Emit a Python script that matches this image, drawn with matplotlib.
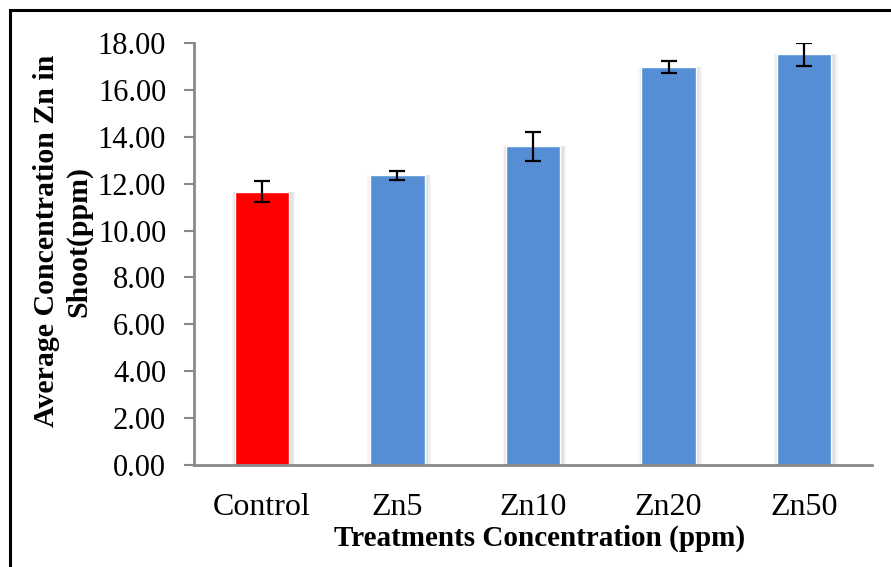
import numpy as np
import matplotlib.pyplot as plt
from matplotlib.lines import Line2D

# data
treatments = ["Control", "Zn5", "Zn10", "Zn20", "Zn50"]
zn_shoot = [11.65, 12.35, 13.60, 16.97, 17.52]    # ppm
zn_err = [0.45, 0.20, 0.62, 0.24, 0.50]           # ppm
bar_colors = ["#FF0000", "#558ED5", "#558ED5", "#558ED5", "#558ED5"]

plt.rcParams['font.family'] = ['Liberation Serif', 'DejaVu Serif']

fig = plt.figure(figsize=(8.91, 5.67), dpi=100)
ax = fig.add_axes([0.2177, 0.18, 0.761, 0.7442])

x = np.arange(len(treatments))
w = 0.40

# soft shadow round the bars
for k, a in [(0.07, 0.06), (0.05, 0.08), (0.03, 0.10)]:
    ax.bar(x + 0.012, zn_shoot, width=w + k, color="gray", alpha=a, linewidth=0, zorder=1)

ax.bar(x, zn_shoot, width=w, color=bar_colors, edgecolor="white", linewidth=1.0, zorder=2)
ax.errorbar(x, zn_shoot, yerr=zn_err, fmt="none", ecolor="black",
            elinewidth=1.6, capsize=6, capthick=1.6, zorder=3)

ax.set_xlim(-0.5, 4.5)
ax.set_ylim(0, 18)
ax.set_yticks(np.arange(0, 18.01, 2))
ax.set_yticklabels(["%.2f" % v for v in np.arange(0, 18.01, 2)])
ax.set_xticks(x)
ax.set_xticklabels(treatments)

ax.tick_params(axis="y", labelsize=22, length=7, width=1.5, color="#898989", pad=13)
ax.tick_params(axis="x", labelsize=23, length=0, pad=20)

for s in ["top", "right"]:
    ax.spines[s].set_visible(False)
for s in ["left", "bottom"]:
    ax.spines[s].set_color("#898989")
    ax.spines[s].set_linewidth(2)

ax.set_xlabel("Treatments Concentration (ppm)", fontsize=21, fontweight="bold", labelpad=2)
ax.set_ylabel("Average Concentration Zn in\nShoot(ppm)", fontsize=21.5, fontweight="bold",
              labelpad=4, linespacing=1.25)
ax.xaxis.label.set_x(0.51)
ax.yaxis.label.set_y(0.53)

# frame lines of the picture (left and top only)
fig.add_artist(Line2D([10 / 891, 10 / 891], [0, 1 - 10 / 567], color="black", lw=2.2))
fig.add_artist(Line2D([10 / 891, 1], [1 - 10 / 567, 1 - 10 / 567], color="black", lw=2.2))

fig.savefig("out.png", dpi=100)
